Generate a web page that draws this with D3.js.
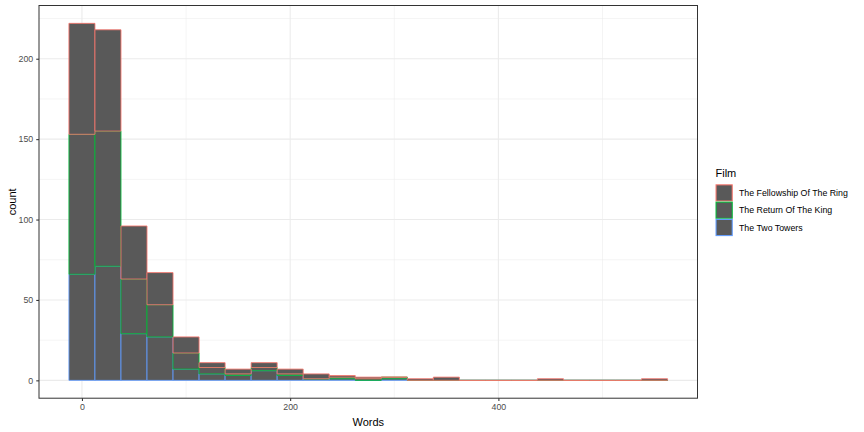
<!DOCTYPE html>
<html>
<head>
<meta charset="utf-8">
<script src="https://cdn.jsdelivr.net/npm/d3@7"></script>
<style>
  html, body { margin: 0; padding: 0; background: #ffffff; }
  svg { display: block; font-family: "Liberation Sans", Arial, sans-serif; }
</style>
</head>
<body>
<svg id="chart" width="864" height="432"></svg>
<script>
// ---- data ----
const binCenters = [0,25,50,75,100,125,150,175,200,225,250,275,300,325,350,375,400,425,450,475,500,525,550];
const binWidth = 25;
const films = ["The Fellowship Of The Ring", "The Return Of The King", "The Two Towers"];
const fellowship = [69,63,33,20,10,3,3,3,3,3,1,1,0,1,2,0,0,0,1,0,0,0,1];
const returnKing = [87,84,34,20,10,4,1,2,1,0,1,1,1,0,0,0,0,0,0,0,0,0,0];
const twoTowers  = [66,71,29,27,7,4,3,6,3,1,1,0,1,0,0,0,0,0,0,0,0,0,0];
const filmColors = ["#F8766D", "#00BA38", "#619CFF"];
const xTicks = [0, 200, 400];
const xMinor = [100, 300, 500];
const yTicks = [0, 50, 100, 150, 200];
const yMinor = [25, 75, 125, 175, 225];

// ---- layout ----
const svg = d3.select("#chart");
const panel = { left: 39, right: 697.5, top: 5.5, bottom: 398.2 };

const rows = binCenters.map((c, i) => ({
  x: c,
  [films[0]]: fellowship[i],
  [films[1]]: returnKing[i],
  [films[2]]: twoTowers[i]
}));

const xMin = d3.min(binCenters) - binWidth / 2;
const xMax = d3.max(binCenters) + binWidth / 2;
const xPad = (xMax - xMin) * 0.05;
const x = d3.scaleLinear().domain([xMin - xPad, xMax + xPad]).range([panel.left, panel.right]);

const totals = rows.map(r => films.reduce((s, f) => s + r[f], 0));
const yMaxV = d3.max(totals);
const yPad = yMaxV * 0.05;
const y = d3.scaleLinear().domain([-yPad, yMaxV + yPad]).range([panel.bottom, panel.top]);

// panel background
svg.append("rect").attr("x", panel.left).attr("y", panel.top)
  .attr("width", panel.right - panel.left).attr("height", panel.bottom - panel.top)
  .attr("fill", "#ffffff");

// grid
const grid = svg.append("g");
grid.selectAll(".ymin").data(yMinor).join("line")
  .attr("x1", panel.left).attr("x2", panel.right)
  .attr("y1", d => y(d)).attr("y2", d => y(d))
  .attr("stroke", "#EBEBEB").attr("stroke-width", 0.55);
grid.selectAll(".xmin").data(xMinor).join("line")
  .attr("y1", panel.top).attr("y2", panel.bottom)
  .attr("x1", d => x(d)).attr("x2", d => x(d))
  .attr("stroke", "#EBEBEB").attr("stroke-width", 0.55);
grid.selectAll(".ymaj").data(yTicks).join("line")
  .attr("x1", panel.left).attr("x2", panel.right)
  .attr("y1", d => y(d)).attr("y2", d => y(d))
  .attr("stroke", "#EBEBEB").attr("stroke-width", 1.07);
grid.selectAll(".xmaj").data(xTicks).join("line")
  .attr("y1", panel.top).attr("y2", panel.bottom)
  .attr("x1", d => x(d)).attr("x2", d => x(d))
  .attr("stroke", "#EBEBEB").attr("stroke-width", 1.07);

// stacked bars: bottom Two Towers, then Return, then Fellowship on top
const stackKeys = [films[2], films[1], films[0]];
const stacked = d3.stack().keys(stackKeys)(rows);
const colorOf = d3.scaleOrdinal().domain(films).range(filmColors);

const bars = svg.append("g");
stacked.forEach(layer => {
  bars.append("g").selectAll("path").data(layer).join("path")
    .attr("d", d => {
      const x0 = x(d.data.x - binWidth / 2), x1 = x(d.data.x + binWidth / 2);
      const y0 = y(d[0]), y1 = y(d[1]);
      return `M${x0},${y0}H${x1}V${y1}H${x0}Z`;
    })
    .attr("fill", "#595959")
    .attr("stroke", colorOf(layer.key))
    .attr("stroke-width", 0.85);
});

// panel border
svg.append("rect").attr("x", panel.left).attr("y", panel.top)
  .attr("width", panel.right - panel.left).attr("height", panel.bottom - panel.top)
  .attr("fill", "none").attr("stroke", "#333333").attr("stroke-width", 1);

// axes
const xAxis = svg.append("g").attr("transform", `translate(0,${panel.bottom})`)
  .call(d3.axisBottom(x).tickValues(xTicks).tickSize(2.75).tickPadding(3).tickFormat(d3.format("d")));
const yAxis = svg.append("g").attr("transform", `translate(${panel.left},0)`)
  .call(d3.axisLeft(y).tickValues(yTicks).tickSize(2.75).tickPadding(3).tickFormat(d3.format("d")));
[xAxis, yAxis].forEach(a => {
  a.select(".domain").remove();
  a.selectAll(".tick line").attr("stroke", "#333333").attr("stroke-width", 1.07);
  a.selectAll(".tick text").attr("fill", "#4D4D4D").style("font-size", "8.8px")
    .style("font-family", '"Liberation Sans", Arial, sans-serif');
});

// axis titles
svg.append("text").attr("x", (panel.left + panel.right) / 2).attr("y", 425.5)
  .attr("text-anchor", "middle").style("font-size", "11px").attr("fill", "#000").text("Words");
svg.append("text").attr("transform", `translate(15.5,${(panel.top + panel.bottom) / 2}) rotate(-90)`)
  .attr("text-anchor", "middle").style("font-size", "11px").attr("fill", "#000").text("count");

// legend
const lg = svg.append("g").attr("transform", "translate(715.5,0)");
lg.append("text").attr("x", 0).attr("y", 177).style("font-size", "11px").attr("fill", "#000").text("Film");
const keySize = 17.28;
films.forEach((f, i) => {
  const ky = 184.3 + i * keySize;
  lg.append("rect").attr("x", 0).attr("y", ky).attr("width", keySize).attr("height", keySize).attr("fill", "#ffffff");
  lg.append("rect").attr("x", 0.55).attr("y", ky + 0.55).attr("width", keySize - 1.1).attr("height", keySize - 1.1)
    .attr("fill", "#595959").attr("stroke", colorOf(f)).attr("stroke-width", 1.07);
  lg.append("text").attr("x", keySize + 6.2).attr("y", ky + keySize / 2).attr("dy", "0.35em")
    .style("font-size", "8.8px").attr("fill", "#000").text(f);
});
</script>
</body>
</html>
